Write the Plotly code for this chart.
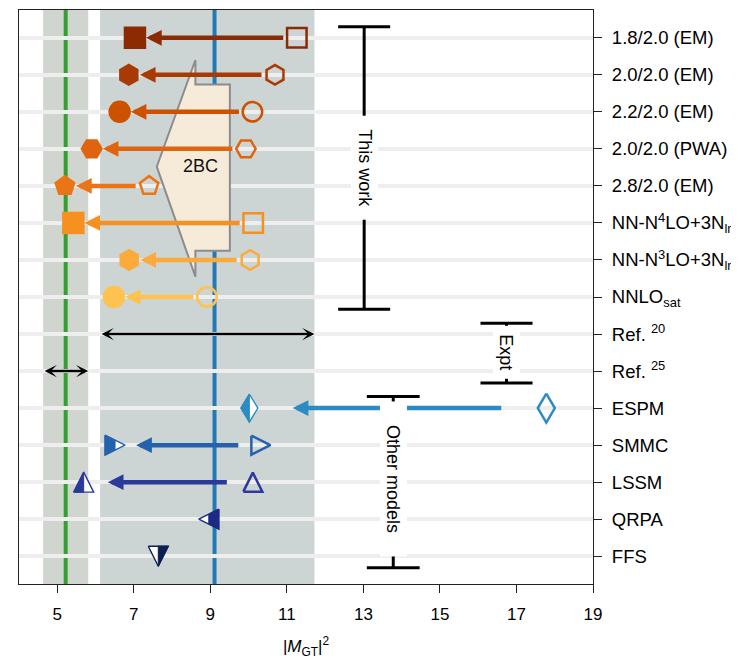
import plotly.graph_objects as go

# ---------------- data ----------------
row_labels = [
    "1.8/2.0 (EM)", "2.0/2.0 (EM)", "2.2/2.0 (EM)", "2.0/2.0 (PWA)", "2.8/2.0 (EM)",
    "NN-N<sup>4</sup>LO+3N<sub>lnl</sub>", "NN-N<sup>3</sup>LO+3N<sub>lnl</sub>",
    "NNLO<sub>sat</sub>", "Ref. <sup>20</sup>", "Ref. <sup>25</sup>",
    "ESPM", "SMMC", "LSSM", "QRPA", "FFS",
]

# "This work" (rows 0-7): with 2BC (filled) and without 2BC (open)
tw_with_2bc = [7.03, 6.87, 6.63, 5.90, 5.20, 5.42, 6.88, 6.48]
tw_without_2bc = [11.26, 10.69, 10.10, 9.93, 7.40, 10.12, 10.04, 8.91]
tw_symbols = ["square", "hexagon", "circle", "hexagon2", "pentagon", "square", "hexagon", "circle"]
tw_colors = ["#8c2a04", "#a83b05", "#cc5200", "#df640f", "#eb7516", "#f6911f", "#fbab3b", "#fdc24f"]

# Experiment (rows 8-9)
expt_low = [6.12, 4.63]
expt_high = [11.72, 5.81]

# Other models (rows 10-14)
om_value = [10.02, 6.51, 5.69, 8.96, 7.64]
om_shape = ["diamond", "triangle-right", "triangle-up", "triangle-left", "triangle-down"]
om_fill_side = ["left", "left", "left", "right", "right"]
om_colors = ["#2b8bc3", "#2462ae", "#2b3a9a", "#1d2983", "#0d1e52"]
om_open_value = [17.78, 10.32, 10.11, None, None]
om_arrow_from = [16.64, 9.77, 9.47, None, None]
om_arrow_to = [11.15, 7.06, 6.32, None, None]

green_line_x = 5.22
blue_line_x = 9.11

# 2BC arrow-shaped box (x, row)
twobc_x = [8.61, 8.61, 9.51, 9.51, 8.61, 8.61, 7.60]
twobc_y = [0.60, 1.26, 1.26, 5.75, 5.75, 6.45, 3.48]

# group brackets: (x, top row, bottom row, cap half-width, label row, label padding)
brackets = {
    "This work": (13.02, -0.30, 7.33, 0.68, 3.5, 2),
    "Expt": (16.74, 7.71, 9.32, 0.68, 8.48, 1),
    "Other models": (13.78, 9.69, 14.31, 0.69, 11.92, 4),
}

# ---------------- layout constants ----------------
# page body has an 8px margin, so the figure is drawn 8px in from the window corner
W, H = 731, 651
ML, MR, MT, MB = 11, 146, 2, 75
XMIN, XMAX = 4, 19
YTOP, YBOT = -0.75, 14.75
PXX = (W - ML - MR) / (XMAX - XMIN)
PXY = (H - MT - MB) / (YBOT - YTOP)
FONT = "Liberation Sans, Arial, Helvetica, sans-serif"

fig = go.Figure()

# ---------------- background bands / lines ----------------
shapes = []
band_colors = ["#cdd4d4", "#d0d6cf"]
for lo, hi, c in zip(expt_low, expt_high, band_colors):
    shapes.append(dict(type="rect", xref="x", yref="paper", x0=lo, x1=hi, y0=0, y1=1,
                       fillcolor=c, line=dict(width=0), layer="below"))
shapes.append(dict(type="line", xref="x", yref="paper", x0=green_line_x, x1=green_line_x,
                   y0=0, y1=1, line=dict(color="#33a02f", width=4), layer="between"))
shapes.append(dict(type="line", xref="x", yref="paper", x0=blue_line_x, x1=blue_line_x,
                   y0=0, y1=1, line=dict(color="#2279b5", width=4), layer="between"))
path = "M " + " L ".join(f"{x},{y}" for x, y in zip(twobc_x, twobc_y)) + " Z"
shapes.append(dict(type="path", xref="x", yref="y", path=path, fillcolor="#f6ebd8",
                   line=dict(color="#8c8c8c", width=2), layer="between"))

# ---------------- This work markers ----------------
tw_rows = list(range(8))
for i in tw_rows:
    fig.add_trace(go.Scatter(x=[tw_without_2bc[i]], y=[i], mode="markers",
                             marker=dict(symbol=tw_symbols[i] + "-open", size=19.5,
                                         color=tw_colors[i], line=dict(width=2.5, color=tw_colors[i])),
                             showlegend=False, hoverinfo="skip"))
    fig.add_trace(go.Scatter(x=[tw_with_2bc[i]], y=[i], mode="markers",
                             marker=dict(symbol=tw_symbols[i], size=22.5, color=tw_colors[i],
                                         line=dict(width=0)),
                             showlegend=False, hoverinfo="skip"))

# ---------------- Other-model markers (polygons) ----------------
def outline_pts(shape, h, hh=None):
    if shape == "diamond":
        return [(0, -hh), (h, 0), (0, hh), (-h, 0)]
    if shape == "triangle-up":
        return [(-h, h), (h, h), (0, -h)]
    if shape == "triangle-down":
        return [(-h, -h), (h, -h), (0, h)]
    if shape == "triangle-right":
        return [(-h, -h), (h, 0), (-h, h)]
    if shape == "triangle-left":
        return [(h, -h), (-h, 0), (h, h)]


def half_pts(shape, side, h, hh=None):
    if shape == "diamond":
        return [(0, -hh), (0, hh), (-h, 0)] if side == "left" else [(0, -hh), (h, 0), (0, hh)]
    if shape == "triangle-up":
        return [(-h, h), (0, h), (0, -h)] if side == "left" else [(0, h), (h, h), (0, -h)]
    if shape == "triangle-down":
        return [(-h, -h), (0, -h), (0, h)] if side == "left" else [(0, -h), (h, -h), (0, h)]
    if shape == "triangle-right":
        return [(-h, -h), (0, -h / 2), (0, h / 2), (-h, h)]
    if shape == "triangle-left":
        return [(0, -h / 2), (h, -h), (h, h), (0, h / 2)]


def to_data(cx, cy, pts):
    xs = [cx + dx / PXX for dx, dy in pts]
    ys = [cy + dy / PXY for dx, dy in pts]
    return xs + xs[:1], ys + ys[:1]


om_rows = list(range(10, 15))
for k, r in enumerate(om_rows):
    shp, col = om_shape[k], om_colors[k]
    h = 8.5 if shp == "diamond" else 10
    hh = 14 if shp == "diamond" else None
    xs, ys = to_data(om_value[k], r, outline_pts(shp, h, hh))
    fig.add_trace(go.Scatter(x=xs, y=ys, mode="lines", fill="toself", fillcolor="white",
                             line=dict(color=col, width=1.4), showlegend=False, hoverinfo="skip"))
    xs, ys = to_data(om_value[k], r, half_pts(shp, om_fill_side[k], h, hh))
    fig.add_trace(go.Scatter(x=xs, y=ys, mode="lines", fill="toself", fillcolor=col,
                             line=dict(color=col, width=1.0), showlegend=False, hoverinfo="skip"))
    if om_open_value[k] is not None:
        ho = 8.5 if shp == "diamond" else 9.5
        hho = 14.5 if shp == "diamond" else None
        xs, ys = to_data(om_open_value[k], r, outline_pts(shp, ho, hho))
        fig.add_trace(go.Scatter(x=xs, y=ys, mode="lines", line=dict(color=col, width=2.5),
                                 showlegend=False, hoverinfo="skip"))

# ---------------- brackets ----------------
bx, by = [], []
for name, (x, top, bot, cap, ly, npad) in brackets.items():
    bx += [x, x, None, x - cap, x + cap, None, x - cap, x + cap, None]
    by += [top, bot, None, top, top, None, bot, bot, None]
fig.add_trace(go.Scatter(x=bx, y=by, mode="lines", line=dict(color="black", width=3),
                         showlegend=False, hoverinfo="skip"))

# ---------------- annotations ----------------
ann = []
for i in tw_rows:
    ann.append(dict(x=tw_with_2bc[i], y=i, ax=tw_without_2bc[i], ay=i, xref="x", yref="y",
                    axref="x", ayref="y", text="", showarrow=True, arrowhead=2,
                    arrowsize=0.7, arrowwidth=4.5, arrowcolor=tw_colors[i],
                    standoff=11, startstandoff=12))
for k, r in enumerate(om_rows):
    if om_arrow_from[k] is not None:
        ann.append(dict(x=om_arrow_to[k], y=r, ax=om_arrow_from[k], ay=r, xref="x", yref="y",
                        axref="x", ayref="y", text="", showarrow=True, arrowhead=2,
                        arrowsize=0.7, arrowwidth=4.5, arrowcolor=om_colors[k]))
for j, r in enumerate([8, 9]):
    ann.append(dict(x=expt_high[j], y=r, ax=expt_low[j], ay=r, xref="x", yref="y",
                    axref="x", ayref="y", text="", showarrow=True, arrowhead=3,
                    startarrowhead=3, arrowside="end+start", arrowsize=0.85,
                    startarrowsize=0.85, arrowwidth=2.4, arrowcolor="black"))
ann.append(dict(x=8.73, y=3.47, xref="x", yref="y", text="2BC", showarrow=False,
                font=dict(family=FONT, size=18, color="#111")))
for name, (x, top, bot, cap, ly, npad) in brackets.items():
    pad = "\u00a0" * npad
    ann.append(dict(x=x, y=ly, xref="x", yref="y", text=pad + name + pad, showarrow=False,
                    textangle=90, bgcolor="white", borderpad=3,
                    font=dict(family=FONT, size=18, color="black")))

fig.update_layout(
    width=W, height=H, margin=dict(l=ML, r=MR, t=MT, b=MB),
    paper_bgcolor="white", plot_bgcolor="white",
    shapes=shapes, annotations=ann, showlegend=False,
    font=dict(family=FONT, size=18, color="black"),
    xaxis=dict(range=[XMIN, XMAX], tickvals=[5, 7, 9, 11, 13, 15, 17, 19],
               showgrid=False, zeroline=False, showline=True, mirror=True,
               linecolor="#222", linewidth=1.3, ticks="outside", ticklen=8, tickwidth=1.3,
               tickcolor="#222", tickfont=dict(size=17), ticklabelstandoff=6,
               title=dict(text="|<i>M</i><sub>GT</sub>|<sup>2</sup>", font=dict(size=17),
                          standoff=18)),
    yaxis=dict(range=[YBOT, YTOP], tickvals=list(range(15)), ticktext=row_labels,
               side="right", showgrid=True, gridcolor="#eeeeee", gridwidth=3.5,
               zeroline=False, showline=True, mirror=True, linecolor="#222", linewidth=1.3,
               ticks="outside", ticklen=8, tickwidth=1.3, tickcolor="#222",
               tickfont=dict(size=18.5), ticklabelstandoff=6),
)

fig.write_html("out.html")
